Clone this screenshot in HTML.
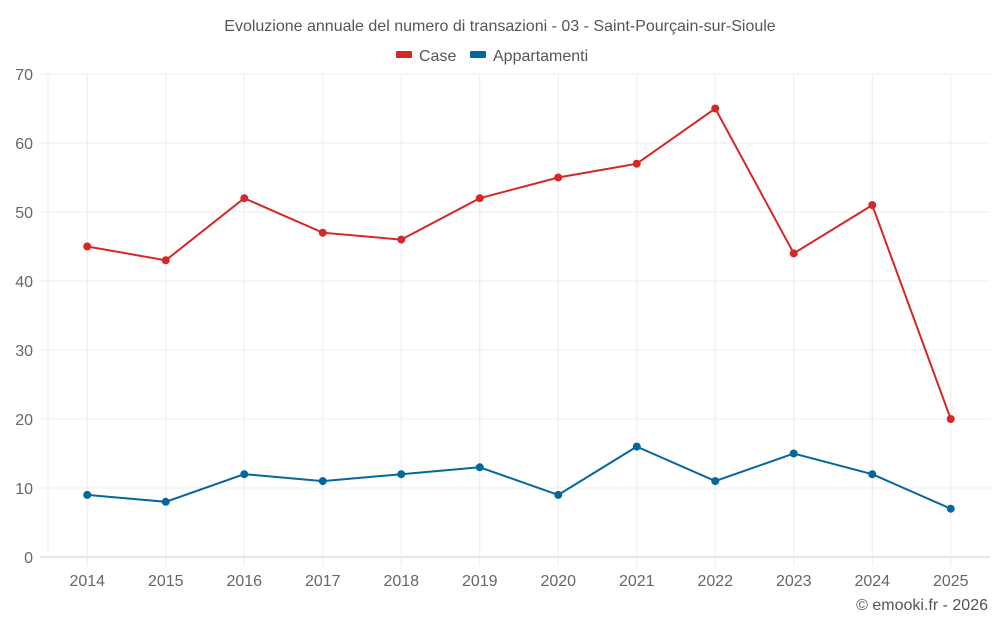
<!DOCTYPE html>
<html><head><meta charset="utf-8"><style>
body{margin:0;background:#fff;font-family:"Liberation Sans",sans-serif}
svg text{font-family:"Liberation Sans",sans-serif}
</style></head><body>
<svg id="c" width="1000" height="625" viewBox="0 0 1000 625">
<text x="500" y="31" text-anchor="middle" font-size="16" fill="#555">Evoluzione annuale del numero di transazioni - 03 - Saint-Pourçain-sur-Sioule</text>
<g><rect x="396" y="51" width="16" height="7" rx="1" fill="#d62728"/><text x="419" y="61" font-size="16" fill="#555">Case</text></g>
<g><rect x="470" y="51" width="16" height="7" rx="1" fill="#04679e"/><text x="493" y="61" font-size="16" fill="#555">Appartamenti</text></g>
<g id="grid"></g><g id="series"></g>
<text x="988" y="610" text-anchor="end" font-size="16" fill="#555">© emooki.fr - 2026</text>
</svg>
<script>
const years=["2014","2015","2016","2017","2018","2019","2020","2021","2022","2023","2024","2025"];
const casa=[45,43,52,47,46,52,55,57,65,44,51,20];
const appart=[9,8,12,11,12,13,9,16,11,15,12,7];
const yTicks=[0,10,20,30,40,50,60,70];
const L=48,R=990,T=74,B=557,yMax=70;
const bw=(R-L)/years.length;
const x=i=>L+bw*(i+0.5);
const y=v=>B-(v/yMax)*(B-T);
const NS="http://www.w3.org/2000/svg";
const g=document.getElementById('grid'),s=document.getElementById('series');
function mk(tag,a,p){const e=document.createElementNS(NS,tag);for(const k in a)e.setAttribute(k,a[k]);p.appendChild(e);return e;}
yTicks.forEach(t=>{
 const l=mk('line',{x1:40,x2:R,y1:y(t),y2:y(t),stroke:t===0?'#ccc':'#ececec','stroke-width':1},g);
 
 
 const tx=mk('text',{x:33,y:y(t)+6,'text-anchor':'end','font-size':16,fill:'#666'},g);tx.textContent=t;
 
 
});
mk('line',{x1:L,x2:L,y1:T,y2:B,stroke:'#ececec'},g);
years.forEach((yr,i)=>{
 const l=mk('line',{x1:x(i),x2:x(i),y1:T,y2:566,stroke:'#ececec'},g);
 
 
 const tx=mk('text',{x:x(i),y:586,'text-anchor':'middle','font-size':16,fill:'#666'},g);tx.textContent=yr;
 
 
});
function series(data,col,name){
 const p=mk('polyline',{points:data.map((v,i)=>x(i)+','+y(v)).join(' '),fill:'none',stroke:col,'stroke-width':2},s);
 
 
 data.forEach((v,i)=>{const c=mk('circle',{cx:x(i),cy:y(v),r:4,fill:col},s);
  
  });
}
series(casa,'#d62728','case');
series(appart,'#04679e','appartamenti');
</script>
</body></html>
